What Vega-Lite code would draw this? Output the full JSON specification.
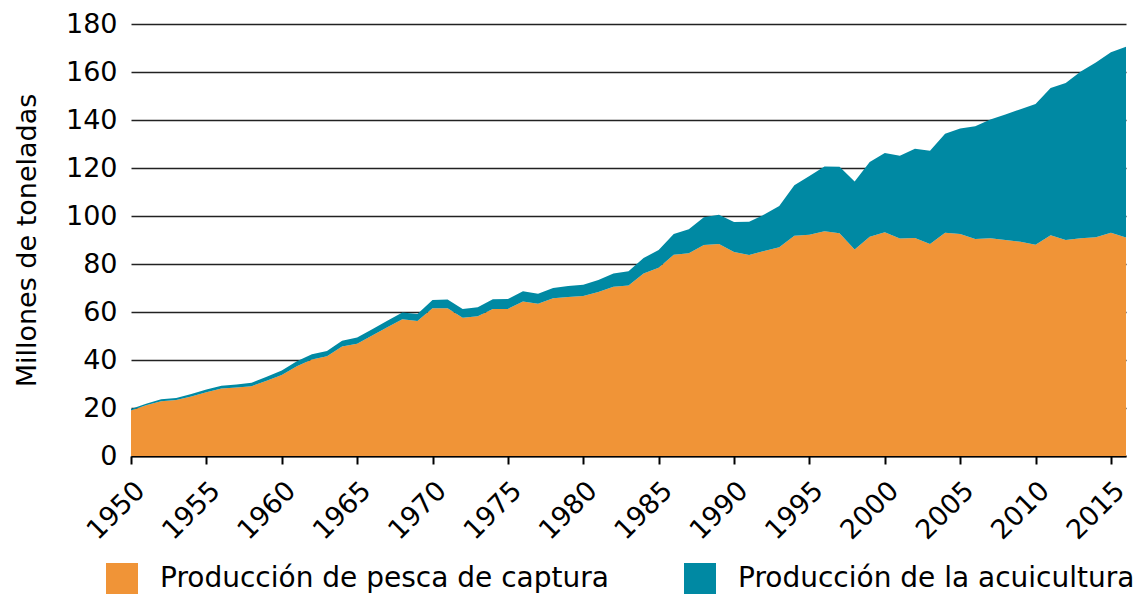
{
  "$schema": "https://vega.github.io/schema/vega-lite/v6.json",
  "autosize": {"type": "none"},
  "padding": {"left": 131, "top": 24, "right": 16, "bottom": 138},
  "width": 995,
  "height": 432,
  "background": "white",
  "config": {"view": {"stroke": null}, "font": "DejaVu Sans"},
  "data": {"values": [
    {"anio":1950,"serie":"Producción de pesca de captura","valor":19.0},{"anio":1950,"serie":"Producción de la acuicultura","valor":0.6},
    {"anio":1951,"serie":"Producción de pesca de captura","valor":21.1},{"anio":1951,"serie":"Producción de la acuicultura","valor":0.7},
    {"anio":1952,"serie":"Producción de pesca de captura","valor":22.8},{"anio":1952,"serie":"Producción de la acuicultura","valor":0.8},
    {"anio":1953,"serie":"Producción de pesca de captura","valor":23.3},{"anio":1953,"serie":"Producción de la acuicultura","valor":0.9},
    {"anio":1954,"serie":"Producción de pesca de captura","valor":24.8},{"anio":1954,"serie":"Producción de la acuicultura","valor":1.0},
    {"anio":1955,"serie":"Producción de pesca de captura","valor":26.6},{"anio":1955,"serie":"Producción de la acuicultura","valor":1.1},
    {"anio":1956,"serie":"Producción de pesca de captura","valor":28.1},{"anio":1956,"serie":"Producción de la acuicultura","valor":1.2},
    {"anio":1957,"serie":"Producción de pesca de captura","valor":28.5},{"anio":1957,"serie":"Producción de la acuicultura","valor":1.3},
    {"anio":1958,"serie":"Producción de pesca de captura","valor":29.1},{"anio":1958,"serie":"Producción de la acuicultura","valor":1.4},
    {"anio":1959,"serie":"Producción de pesca de captura","valor":31.4},{"anio":1959,"serie":"Producción de la acuicultura","valor":1.6},
    {"anio":1960,"serie":"Producción de pesca de captura","valor":33.7},{"anio":1960,"serie":"Producción de la acuicultura","valor":1.9},
    {"anio":1961,"serie":"Producción de pesca de captura","valor":37.4},{"anio":1961,"serie":"Producción de la acuicultura","valor":2.1},
    {"anio":1962,"serie":"Producción de pesca de captura","valor":40.2},{"anio":1962,"serie":"Producción de la acuicultura","valor":2.2},
    {"anio":1963,"serie":"Producción de pesca de captura","valor":41.6},{"anio":1963,"serie":"Producción de la acuicultura","valor":2.2},
    {"anio":1964,"serie":"Producción de pesca de captura","valor":45.6},{"anio":1964,"serie":"Producción de la acuicultura","valor":2.4},
    {"anio":1965,"serie":"Producción de pesca de captura","valor":46.8},{"anio":1965,"serie":"Producción de la acuicultura","valor":2.6},
    {"anio":1966,"serie":"Producción de pesca de captura","valor":50.2},{"anio":1966,"serie":"Producción de la acuicultura","valor":2.6},
    {"anio":1967,"serie":"Producción de pesca de captura","valor":53.6},{"anio":1967,"serie":"Producción de la acuicultura","valor":2.8},
    {"anio":1968,"serie":"Producción de pesca de captura","valor":57.0},{"anio":1968,"serie":"Producción de la acuicultura","valor":2.8},
    {"anio":1969,"serie":"Producción de pesca de captura","valor":56.3},{"anio":1969,"serie":"Producción de la acuicultura","valor":2.9},
    {"anio":1970,"serie":"Producción de pesca de captura","valor":61.6},{"anio":1970,"serie":"Producción de la acuicultura","valor":3.4},
    {"anio":1971,"serie":"Producción de pesca de captura","valor":61.6},{"anio":1971,"serie":"Producción de la acuicultura","valor":3.6},
    {"anio":1972,"serie":"Producción de pesca de captura","valor":57.6},{"anio":1972,"serie":"Producción de la acuicultura","valor":3.7},
    {"anio":1973,"serie":"Producción de pesca de captura","valor":58.2},{"anio":1973,"serie":"Producción de la acuicultura","valor":3.8},
    {"anio":1974,"serie":"Producción de pesca de captura","valor":61.3},{"anio":1974,"serie":"Producción de la acuicultura","valor":4.0},
    {"anio":1975,"serie":"Producción de pesca de captura","valor":61.3},{"anio":1975,"serie":"Producción de la acuicultura","valor":4.1},
    {"anio":1976,"serie":"Producción de pesca de captura","valor":64.4},{"anio":1976,"serie":"Producción de la acuicultura","valor":4.2},
    {"anio":1977,"serie":"Producción de pesca de captura","valor":63.4},{"anio":1977,"serie":"Producción de la acuicultura","valor":4.2},
    {"anio":1978,"serie":"Producción de pesca de captura","valor":65.7},{"anio":1978,"serie":"Producción de la acuicultura","valor":4.3},
    {"anio":1979,"serie":"Producción de pesca de captura","valor":66.3},{"anio":1979,"serie":"Producción de la acuicultura","valor":4.5},
    {"anio":1980,"serie":"Producción de pesca de captura","valor":66.7},{"anio":1980,"serie":"Producción de la acuicultura","valor":4.7},
    {"anio":1981,"serie":"Producción de pesca de captura","valor":68.3},{"anio":1981,"serie":"Producción de la acuicultura","valor":5.0},
    {"anio":1982,"serie":"Producción de pesca de captura","valor":70.5},{"anio":1982,"serie":"Producción de la acuicultura","valor":5.5},
    {"anio":1983,"serie":"Producción de pesca de captura","valor":71.0},{"anio":1983,"serie":"Producción de la acuicultura","valor":6.0},
    {"anio":1984,"serie":"Producción de pesca de captura","valor":76.0},{"anio":1984,"serie":"Producción de la acuicultura","valor":6.5},
    {"anio":1985,"serie":"Producción de pesca de captura","valor":78.4},{"anio":1985,"serie":"Producción de la acuicultura","valor":7.4},
    {"anio":1986,"serie":"Producción de pesca de captura","valor":83.9},{"anio":1986,"serie":"Producción de la acuicultura","valor":8.6},
    {"anio":1987,"serie":"Producción de pesca de captura","valor":84.5},{"anio":1987,"serie":"Producción de la acuicultura","valor":10.0},
    {"anio":1988,"serie":"Producción de pesca de captura","valor":87.9},{"anio":1988,"serie":"Producción de la acuicultura","valor":11.6},
    {"anio":1989,"serie":"Producción de pesca de captura","valor":88.3},{"anio":1989,"serie":"Producción de la acuicultura","valor":12.2},
    {"anio":1990,"serie":"Producción de pesca de captura","valor":85.0},{"anio":1990,"serie":"Producción de la acuicultura","valor":12.5},
    {"anio":1991,"serie":"Producción de pesca de captura","valor":83.7},{"anio":1991,"serie":"Producción de la acuicultura","valor":13.9},
    {"anio":1992,"serie":"Producción de pesca de captura","valor":85.4},{"anio":1992,"serie":"Producción de la acuicultura","valor":15.2},
    {"anio":1993,"serie":"Producción de pesca de captura","valor":87.0},{"anio":1993,"serie":"Producción de la acuicultura","valor":17.2},
    {"anio":1994,"serie":"Producción de pesca de captura","valor":91.8},{"anio":1994,"serie":"Producción de la acuicultura","valor":21.0},
    {"anio":1995,"serie":"Producción de pesca de captura","valor":92.2},{"anio":1995,"serie":"Producción de la acuicultura","valor":24.5},
    {"anio":1996,"serie":"Producción de pesca de captura","valor":93.6},{"anio":1996,"serie":"Producción de la acuicultura","valor":27.0},
    {"anio":1997,"serie":"Producción de pesca de captura","valor":92.8},{"anio":1997,"serie":"Producción de la acuicultura","valor":27.7},
    {"anio":1998,"serie":"Producción de pesca de captura","valor":86.0},{"anio":1998,"serie":"Producción de la acuicultura","valor":28.4},
    {"anio":1999,"serie":"Producción de pesca de captura","valor":91.4},{"anio":1999,"serie":"Producción de la acuicultura","valor":31.1},
    {"anio":2000,"serie":"Producción de pesca de captura","valor":93.2},{"anio":2000,"serie":"Producción de la acuicultura","valor":33.0},
    {"anio":2001,"serie":"Producción de pesca de captura","valor":90.6},{"anio":2001,"serie":"Producción de la acuicultura","valor":34.5},
    {"anio":2002,"serie":"Producción de pesca de captura","valor":90.8},{"anio":2002,"serie":"Producción de la acuicultura","valor":37.2},
    {"anio":2003,"serie":"Producción de pesca de captura","valor":88.3},{"anio":2003,"serie":"Producción de la acuicultura","valor":38.9},
    {"anio":2004,"serie":"Producción de pesca de captura","valor":93.0},{"anio":2004,"serie":"Producción de la acuicultura","valor":41.3},
    {"anio":2005,"serie":"Producción de pesca de captura","valor":92.5},{"anio":2005,"serie":"Producción de la acuicultura","valor":44.0},
    {"anio":2006,"serie":"Producción de pesca de captura","valor":90.4},{"anio":2006,"serie":"Producción de la acuicultura","valor":47.0},
    {"anio":2007,"serie":"Producción de pesca de captura","valor":90.7},{"anio":2007,"serie":"Producción de la acuicultura","valor":49.5},
    {"anio":2008,"serie":"Producción de pesca de captura","valor":90.0},{"anio":2008,"serie":"Producción de la acuicultura","valor":52.3},
    {"anio":2009,"serie":"Producción de pesca de captura","valor":89.3},{"anio":2009,"serie":"Producción de la acuicultura","valor":55.2},
    {"anio":2010,"serie":"Producción de pesca de captura","valor":88.0},{"anio":2010,"serie":"Producción de la acuicultura","valor":58.7},
    {"anio":2011,"serie":"Producción de pesca de captura","valor":92.0},{"anio":2011,"serie":"Producción de la acuicultura","valor":61.3},
    {"anio":2012,"serie":"Producción de pesca de captura","valor":90.0},{"anio":2012,"serie":"Producción de la acuicultura","valor":65.4},
    {"anio":2013,"serie":"Producción de pesca de captura","valor":90.7},{"anio":2013,"serie":"Producción de la acuicultura","valor":69.5},
    {"anio":2014,"serie":"Producción de pesca de captura","valor":91.1},{"anio":2014,"serie":"Producción de la acuicultura","valor":72.9},
    {"anio":2015,"serie":"Producción de pesca de captura","valor":93.0},{"anio":2015,"serie":"Producción de la acuicultura","valor":75.2},
    {"anio":2016,"serie":"Producción de pesca de captura","valor":91.0},{"anio":2016,"serie":"Producción de la acuicultura","valor":79.5}
  ]},
  "mark": {"type": "area", "interpolate": "linear"},
  "encoding": {
    "x": {
      "field": "anio", "type": "quantitative",
      "scale": {"domain": [1950, 2016], "nice": false, "zero": false},
      "axis": {
        "title": null, "values": [1950,1955,1960,1965,1970,1975,1980,1985,1990,1995,2000,2005,2010,2015],
        "format": "d", "grid": false, "labelAngle": -45, "labelFontSize": 27, "labelColor": "#000000",
        "labelFont": "DejaVu Sans", "domainColor": "#000000", "domainWidth": 2, "tickColor": "#000000",
        "tickWidth": 2, "tickSize": 8, "labelPadding": 13, "labelFlush": false, "labelOverlap": false
      }
    },
    "y": {
      "field": "valor", "type": "quantitative", "stack": "zero",
      "scale": {"domain": [0, 180], "nice": false},
      "axis": {
        "title": "Millones de toneladas", "titleFontSize": 27, "titleFontWeight": "normal", "titleColor": "#000000",
        "titleFont": "DejaVu Sans", "titlePadding": 24,
        "values": [0,20,40,60,80,100,120,140,160,180], "domain": false, "ticks": false,
        "labelFontSize": 27, "labelColor": "#000000", "labelFont": "DejaVu Sans", "labelPadding": 14,
        "gridColor": "#222222", "gridWidth": 1.6, "gridOpacity": 1
      }
    },
    "color": {
      "field": "serie", "type": "nominal",
      "scale": {"domain": ["Producción de pesca de captura", "Producción de la acuicultura"], "range": ["#F09437", "#0089A3"]},
      "legend": {
        "title": null, "orient": "none", "legendX": -25, "legendY": 539, "direction": "horizontal",
        "symbolType": "square", "symbolSize": 1024, "symbolStrokeWidth": 0, "symbolOpacity": 1,
        "labelFontSize": 28, "labelFont": "DejaVu Sans", "labelColor": "#000000", "labelOffset": 22,
        "columnPadding": 75, "labelLimit": 700
      }
    },
    "order": {"field": "serie", "sort": "descending"}
  }
}
